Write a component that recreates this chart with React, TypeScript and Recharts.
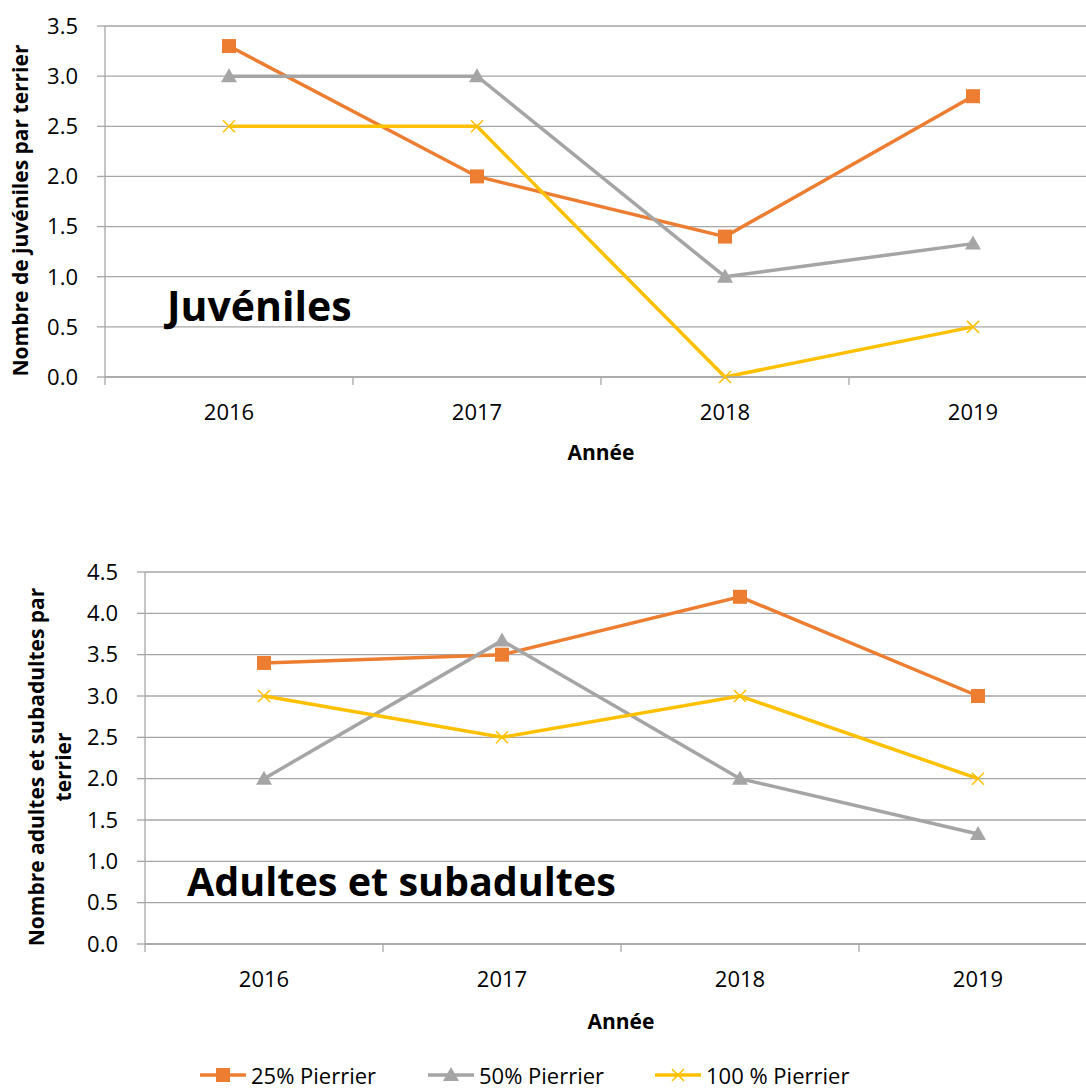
import React from 'react'
import { LineChart, Line, XAxis, YAxis, CartesianGrid, Legend } from 'recharts'

const years = ['2016', '2017', '2018', '2019']
const seriesNames = ['25% Pierrier', '50% Pierrier', '100 % Pierrier']

// juvéniles par terrier
const juv25 = [3.3, 2.0, 1.4, 2.8]
const juv50 = [3.0, 3.0, 1.0, 1.33]
const juv100 = [2.5, 2.5, 0.0, 0.5]

// adultes et subadultes par terrier
const adu25 = [3.4, 3.5, 4.2, 3.0]
const adu50 = [2.0, 3.67, 2.0, 1.33]
const adu100 = [3.0, 2.5, 3.0, 2.0]

const juvTicks = [0, 0.5, 1, 1.5, 2, 2.5, 3, 3.5]
const aduTicks = [0, 0.5, 1, 1.5, 2, 2.5, 3, 3.5, 4, 4.5]

const juvData = years.map((year, i) => ({ year, s25: juv25[i], s50: juv50[i], s100: juv100[i] }))
const aduData = years.map((year, i) => ({ year, s25: adu25[i], s50: adu50[i], s100: adu100[i] }))

const FONT = '"Open Sans", sans-serif'
const GRID = '#a6a6a6'
const COLORS = ['#ED7D31', '#A5A5A5', '#FFC000']
const keys = ['s25', 's50', 's100']
const CHART_W = 1100
const RIGHT = 3

const Marker = ({ kind, cx, cy }: { kind: number; cx: number; cy: number }) => {
    if (kind === 0) return <rect x={cx - 7} y={cy - 7} width={14} height={14} fill={COLORS[0]} />
    if (kind === 1) return <polygon points={`${cx},${cy - 8} ${cx + 8},${cy + 6} ${cx - 8},${cy + 6}`} fill={COLORS[1]} />
    return (
        <path
            d={`M${cx - 6},${cy - 6}L${cx + 6},${cy + 6}M${cx + 6},${cy - 6}L${cx - 6},${cy + 6}`}
            stroke={COLORS[2]}
            strokeWidth={1.5}
            fill="none"
        />
    )
}

const dotFor = (kind: number) => (props: any) => {
    const { cx, cy, index } = props
    if (cx == null || cy == null) return <g key={index} />
    return <Marker key={index} kind={kind} cx={cx} cy={cy} />
}

// category labels with tick marks at the category boundaries (Excel style)
const yearTick = (band: number) => (props: any) => {
    const { x, y, payload, index } = props
    return (
        <g>
            <line x1={x - band / 2} x2={x - band / 2} y1={y - 8} y2={y} stroke={GRID} strokeWidth={1.3} />
            {index === years.length - 1 && (
                <line x1={x + band / 2} x2={x + band / 2} y1={y - 8} y2={y} stroke={GRID} strokeWidth={1.3} />
            )}
            <text x={x} y={y + 35} textAnchor="middle" fill="#000" fontSize={22} fontFamily={FONT}>
                {payload.value}
            </text>
        </g>
    )
}

const yLabel = (lines: string[], x0: number) => (props: any) => {
    const vb = props.viewBox
    const cy = vb.y + vb.height / 2 + 9
    return (
        <g>
            {lines.map((l, i) => (
                <text
                    key={i}
                    x={0}
                    y={0}
                    transform={`translate(${x0 + i * 27}, ${cy}) rotate(-90)`}
                    textAnchor="middle"
                    dominantBaseline="central"
                    fontSize={21}
                    fontWeight={700}
                    fontFamily={FONT}
                    fill="#000"
                >
                    {l}
                </text>
            ))}
        </g>
    )
}

const legendLeft = [200, 428, 655]

const renderLegend = (props: any) => {
    const payload = [...(props.payload || [])].sort(
        (a: any, b: any) => keys.indexOf(a.dataKey) - keys.indexOf(b.dataKey)
    )
    return (
        <div style={{ position: 'relative', height: 55, width: CHART_W }}>
            {payload.map((p: any) => {
                const i = keys.indexOf(p.dataKey)
                return (
                    <div
                        key={p.dataKey}
                        style={{
                            position: 'absolute',
                            left: legendLeft[i],
                            bottom: 2,
                            height: 24,
                            display: 'flex',
                            alignItems: 'center',
                            fontSize: 22,
                            fontFamily: FONT,
                            color: '#000',
                            whiteSpace: 'nowrap',
                        }}
                    >
                        <svg width={46} height={20} style={{ marginRight: 5 }}>
                            <line x1={0} x2={46} y1={10} y2={10} stroke={COLORS[i]} strokeWidth={3.5} />
                            <Marker kind={i} cx={23} cy={10} />
                        </svg>
                        {p.value}
                    </div>
                )
            })}
        </div>
    )
}

const title = (text: string, left: number, top: number, size: number) => (
    <div
        style={{
            position: 'absolute',
            left,
            top,
            fontSize: size,
            lineHeight: '40px',
            fontWeight: 700,
            fontFamily: FONT,
            color: '#000',
            whiteSpace: 'nowrap',
        }}
    >
        {text}
    </div>
)

export default function App() {
    const juvYW = 105
    const aduYW = 145
    const juvBand = (CHART_W - juvYW - RIGHT) / years.length
    const aduBand = (CHART_W - aduYW - RIGHT) / years.length

    return (
        <div
            style={{
                position: 'absolute',
                left: 0,
                top: 0,
                width: 1086,
                height: 1089,
                overflow: 'hidden',
                background: '#fff',
                fontFamily: FONT,
            }}
        >
            <div style={{ position: 'absolute', left: 0, top: 0 }}>
                <LineChart width={CHART_W} height={470} data={juvData} margin={{ top: 26, right: RIGHT, left: 0, bottom: 0 }}>
                    <CartesianGrid vertical={false} stroke={GRID} strokeWidth={1.3} />
                    <XAxis
                        dataKey="year"
                        height={93}
                        padding={{ left: juvBand / 2, right: juvBand / 2 }}
                        axisLine={{ stroke: GRID, strokeWidth: 1.3 }}
                        tickLine={false}
                        tickSize={8}
                        tickMargin={0}
                        interval={0}
                        tick={yearTick(juvBand)}
                        label={{ value: 'Année', position: 'insideBottom', offset: 10, fontSize: 21, fontWeight: 700, fill: '#000', fontFamily: FONT }}
                    />
                    <YAxis
                        width={juvYW}
                        domain={[0, 3.5]}
                        ticks={juvTicks}
                        interval={0}
                        tickFormatter={(v: number) => v.toFixed(1)}
                        axisLine={{ stroke: GRID, strokeWidth: 1.3 }}
                        tickLine={{ stroke: GRID, strokeWidth: 1.3 }}
                        tickSize={8}
                        tickMargin={19}
                        tick={{ fill: '#000', fontSize: 22, fontFamily: FONT }}
                        label={{ content: yLabel(['Nombre de juvéniles par terrier'], 20) }}
                    />
                    {keys.map((k, i) => (
                        <Line
                            key={k}
                            type="linear"
                            dataKey={k}
                            name={seriesNames[i]}
                            stroke={COLORS[i]}
                            strokeWidth={3.5}
                            dot={dotFor(i)}
                            activeDot={false}
                            isAnimationActive={false}
                        />
                    ))}
                </LineChart>
            </div>
            {title('Juvéniles', 167, 285, 41)}

            <div style={{ position: 'absolute', left: 0, top: 546 }}>
                <LineChart width={CHART_W} height={543} data={aduData} margin={{ top: 26, right: RIGHT, left: 0, bottom: 0 }}>
                    <CartesianGrid vertical={false} stroke={GRID} strokeWidth={1.3} />
                    <XAxis
                        dataKey="year"
                        height={90}
                        padding={{ left: aduBand / 2, right: aduBand / 2 }}
                        axisLine={{ stroke: GRID, strokeWidth: 1.3 }}
                        tickLine={false}
                        tickSize={8}
                        tickMargin={0}
                        interval={0}
                        tick={yearTick(aduBand)}
                        label={{ value: 'Année', position: 'insideBottom', offset: 5, fontSize: 21, fontWeight: 700, fill: '#000', fontFamily: FONT }}
                    />
                    <YAxis
                        width={aduYW}
                        domain={[0, 4.5]}
                        ticks={aduTicks}
                        interval={0}
                        tickFormatter={(v: number) => v.toFixed(1)}
                        axisLine={{ stroke: GRID, strokeWidth: 1.3 }}
                        tickLine={{ stroke: GRID, strokeWidth: 1.3 }}
                        tickSize={8}
                        tickMargin={19}
                        tick={{ fill: '#000', fontSize: 22, fontFamily: FONT }}
                        label={{ content: yLabel(['Nombre adultes et subadultes par', 'terrier'], 36) }}
                    />
                    {keys.map((k, i) => (
                        <Line
                            key={k}
                            type="linear"
                            dataKey={k}
                            name={seriesNames[i]}
                            stroke={COLORS[i]}
                            strokeWidth={3.5}
                            dot={dotFor(i)}
                            activeDot={false}
                            isAnimationActive={false}
                        />
                    ))}
                    <Legend
                        verticalAlign="bottom"
                        align="left"
                        height={55}
                        wrapperStyle={{ left: 0, width: CHART_W }}
                        content={renderLegend}
                    />
                </LineChart>
            </div>
            {title('Adultes et subadultes', 187, 861, 39.5)}
        </div>
    )
}
